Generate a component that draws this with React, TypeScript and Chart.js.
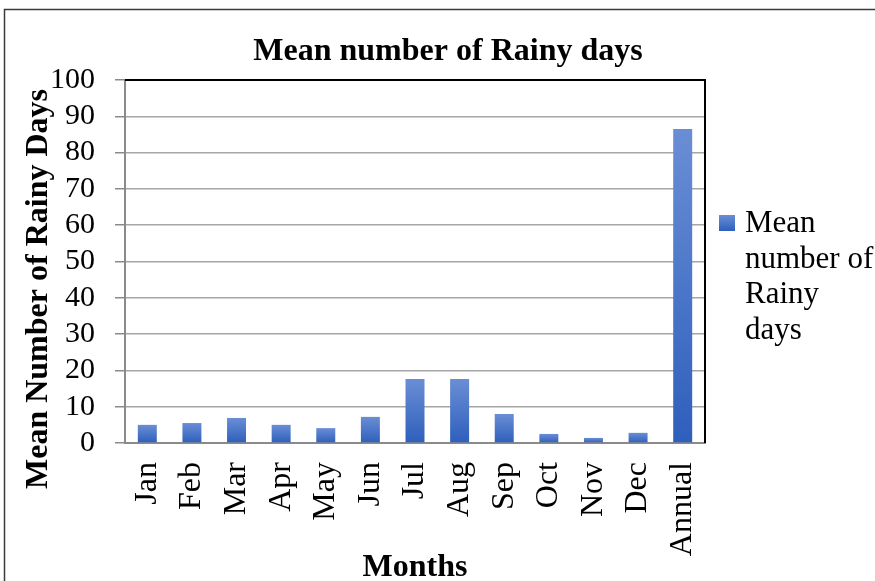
import React, { useEffect, useRef } from "react";
import { Chart, registerables } from "chart.js";

Chart.register(...registerables);

const months = ["Jan", "Feb", "Mar", "Apr", "May", "Jun", "Jul", "Aug", "Sep", "Oct", "Nov", "Dec", "Annual"];
const rainyDays = [5.0, 5.5, 6.9, 5.0, 4.1, 7.2, 17.6, 17.6, 8.0, 2.5, 1.4, 2.8, 86.5];
const yTicks = [0, 10, 20, 30, 40, 50, 60, 70, 80, 90, 100];

const seriesLabel = "Mean number of Rainy days";
const chartTitle = "Mean number of Rainy days";
const yTitle = "Mean Number of Rainy Days";
const xTitle = "Months";

const SERIF = "'Liberation Serif', 'Times New Roman', serif";
const BAR_TOP = "#6a8ed5";
const BAR_BOTTOM = "#2e5fbc";

// Outer frame, chart title, y-axis title, plot outline (top + right) and a wrapped legend.
const decorations = {
  id: "decorations",
  beforeDraw(chart: any) {
    const { ctx } = chart;
    ctx.save();
    ctx.fillStyle = "#ffffff";
    ctx.fillRect(0, 0, chart.width, chart.height);
    ctx.strokeStyle = "#3a3a3a";
    ctx.lineWidth = 1.5;
    ctx.strokeRect(4.5, 9.5, chart.width + 20, chart.height + 20);
    ctx.restore();
  },
  afterDraw(chart: any) {
    const { ctx, chartArea } = chart;
    ctx.save();
    ctx.strokeStyle = "#000000";
    ctx.lineWidth = 2;
    ctx.beginPath();
    ctx.moveTo(chartArea.left, chartArea.top);
    ctx.lineTo(chartArea.right, chartArea.top);
    ctx.lineTo(chartArea.right, chartArea.bottom);
    ctx.stroke();

    // chart title
    ctx.fillStyle = "#000000";
    ctx.font = `bold 32px ${SERIF}`;
    ctx.textAlign = "center";
    ctx.textBaseline = "alphabetic";
    ctx.fillText(chartTitle, 448, 60);

    // y-axis title
    ctx.save();
    ctx.translate(39, 289);
    ctx.rotate(-Math.PI / 2);
    ctx.textBaseline = "middle";
    ctx.fillText(yTitle, 0, 0);
    ctx.restore();

    // legend
    const sx = chartArea.right + 14;
    const sy = 215;
    const g = ctx.createLinearGradient(0, sy, 0, sy + 16);
    g.addColorStop(0, BAR_TOP);
    g.addColorStop(1, BAR_BOTTOM);
    ctx.fillStyle = g;
    ctx.fillRect(sx, sy, 16, 16);

    ctx.font = `31px ${SERIF}`;
    ctx.fillStyle = "#000000";
    ctx.textBaseline = "alphabetic";
    ctx.textAlign = "left";
    const words = (chart.data.datasets[0].label as string).split(" ");
    const maxW = 132;
    const lines: string[] = [];
    let cur = "";
    for (const w of words) {
      const test = cur ? cur + " " + w : w;
      if (cur && ctx.measureText(test).width > maxW) {
        lines.push(cur);
        cur = w;
      } else {
        cur = test;
      }
    }
    if (cur) lines.push(cur);
    lines.forEach((ln, i) => ctx.fillText(ln, sx + 26, 232 + i * 35.5));
    ctx.restore();
  },
};

export default function App() {
  const ref = useRef<HTMLCanvasElement | null>(null);

  useEffect(() => {
    document.body.style.margin = "0";
    const canvas = ref.current;
    if (!canvas) return;

    const barFill = (c: any) => {
      const chart = c.chart;
      const y = chart.scales && chart.scales.y;
      if (!y || c.type !== "data") return BAR_BOTTOM;
      const top = y.getPixelForValue(c.raw);
      const bottom = y.getPixelForValue(0);
      if (!isFinite(top) || !isFinite(bottom) || top === bottom) return BAR_BOTTOM;
      const g = chart.ctx.createLinearGradient(0, top, 0, bottom);
      g.addColorStop(0, BAR_TOP);
      g.addColorStop(1, BAR_BOTTOM);
      return g;
    };

    const chart = new Chart(canvas, {
      type: "bar",
      data: {
        labels: months,
        datasets: [
          {
            label: seriesLabel,
            data: rainyDays,
            backgroundColor: barFill,
            borderWidth: 0,
            barPercentage: 0.4255,
            categoryPercentage: 1,
          },
        ],
      },
      options: {
        responsive: false,
        animation: false,
        devicePixelRatio: 1,
        layout: { padding: { left: 24, right: 170, top: 80, bottom: 0 } },
        plugins: {
          legend: { display: false },
          tooltip: { enabled: false },
          title: { display: false },
        },
        scales: {
          x: {
            grid: { display: false, drawTicks: false },
            border: { color: "#8a8a8a", width: 2 },
            ticks: {
              color: "#000000",
              font: { family: SERIF, size: 32 },
              minRotation: 90,
              maxRotation: 90,
              autoSkip: false,
              padding: 19,
            },
            title: {
              display: true,
              text: xTitle,
              color: "#000000",
              font: { family: SERIF, size: 32, weight: "bold", lineHeight: 1 },
              padding: { top: 0, bottom: -3 },
            },
            afterFit(scale: any) {
              scale.height = 138;
            },
          },
          y: {
            min: 0,
            max: 100,
            afterBuildTicks(scale: any) {
              scale.ticks = yTicks.map((v) => ({ value: v }));
            },
            grid: {
              color: "#a6a6a6",
              lineWidth: 1.5,
              tickLength: 10,
              tickColor: "#8a8a8a",
            },
            border: { color: "#8a8a8a", width: 2 },
            ticks: {
              color: "#000000",
              font: { family: SERIF, size: 30 },
              padding: 20,
              autoSkip: false,
              stepSize: 10,
            },
            afterFit(scale: any) {
              scale.width = 101;
            },
          },
        },
      },
      plugins: [decorations],
    });

    return () => chart.destroy();
  }, []);

  return (
    <div style={{ position: "absolute", left: 0, top: 0, width: 875, height: 581 }}>
      <canvas ref={ref} width={875} height={581} style={{ display: "block" }} />
    </div>
  );
}
